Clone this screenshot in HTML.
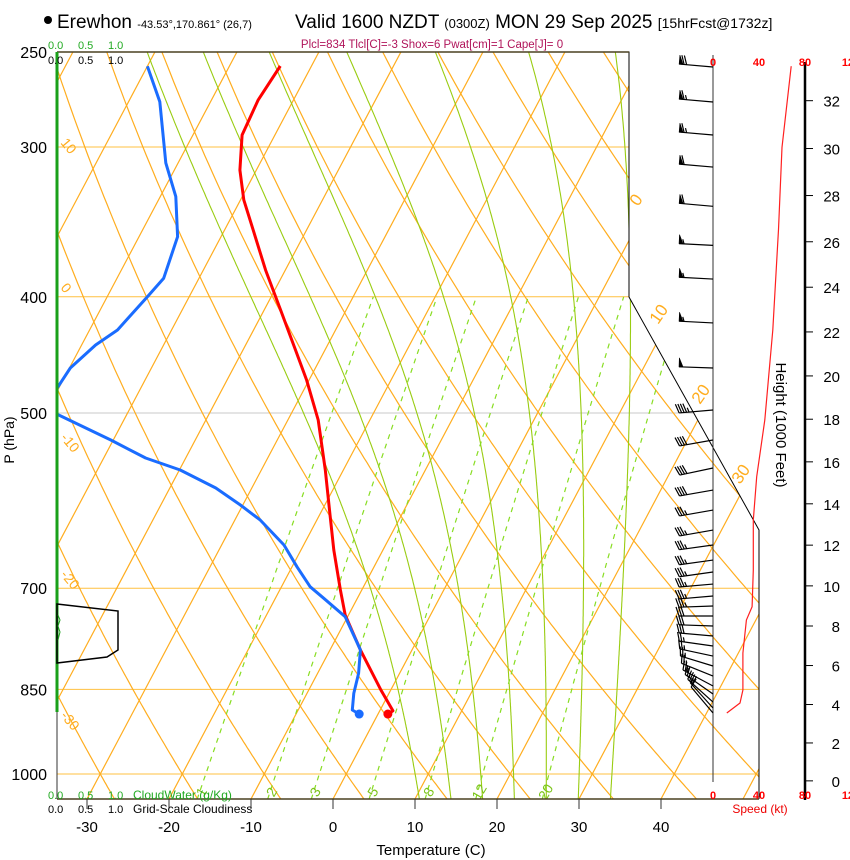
<!DOCTYPE html>
<html><head><meta charset="utf-8"><style>
html,body{margin:0;padding:0;background:#fff;}
svg{display:block;font-family:"Liberation Sans",sans-serif;}
</style></head><body>
<svg id="chart" width="850" height="860" viewBox="0 0 850 860" xmlns="http://www.w3.org/2000/svg">
<defs><clipPath id="plotclip"><polygon points="57,52 629,52 629,297 759,530 759,799 57,799"/></clipPath></defs>
<g id="bg" clip-path="url(#plotclip)"></g>
<g id="prof" clip-path="url(#plotclip)"></g>
<polyline points="57,52 629,52 629,297 759,530 759,799" fill="none" stroke="#000" stroke-width="1"/>
<line x1="57" y1="799" x2="759" y2="799" stroke="#4a4020" stroke-width="1.5"/>
<line x1="57" y1="52" x2="629" y2="52" stroke="#4a4020" stroke-width="1.5"/>
<line x1="57" y1="52" x2="57" y2="712" stroke="#1aa01a" stroke-width="3"/>
<line x1="57" y1="712" x2="57" y2="799" stroke="#333" stroke-width="1"/>
<polygon points="57,604 118,611 118,650 107,657 57,663" fill="none" stroke="#000" stroke-width="1.5"/>
<polyline points="58,615 60,620 58,626 60,632 58,640" fill="none" stroke="#1aa01a" stroke-width="1"/>
<g id="axes"></g>
<g id="wind"></g>
<g font-size="19">
<circle cx="48" cy="20" r="4" fill="#000"/>
<text x="57" y="28">Erewhon <tspan font-size="11">-43.53°,170.861° (26,7)</tspan></text>
<text x="295" y="28">Valid 1600 NZDT <tspan font-size="13">(0300Z)</tspan> MON 29 Sep 2025 <tspan font-size="14">[15hrFcst@1732z]</tspan></text>
</g>
<text x="432" y="48" font-size="11.5" fill="#b0145a" text-anchor="middle">Plcl=834 Tlcl[C]=-3 Shox=6 Pwat[cm]=1 Cape[J]= 0</text>
<g font-size="11">
<text x="48" y="49" fill="#22aa22">0.0</text><text x="78" y="49" fill="#22aa22">0.5</text><text x="108" y="49" fill="#22aa22">1.0</text>
<text x="48" y="64">0.0</text><text x="78" y="64">0.5</text><text x="108" y="64">1.0</text>
</g>
<g font-size="11">
<text x="48" y="799" fill="#22aa22">0.0</text><text x="78" y="799" fill="#22aa22">0.5</text><text x="108" y="799" fill="#22aa22">1.0</text><text x="133" y="799" fill="#22aa22" font-size="12">CloudWater (g/Kg)</text>
<text x="48" y="813">0.0</text><text x="78" y="813">0.5</text><text x="108" y="813">1.0</text><text x="133" y="813" font-size="12">Grid-Scale Cloudiness</text>
</g>
<text x="431" y="855" font-size="15" text-anchor="middle">Temperature (C)</text>
<text transform="translate(14,440) rotate(-90)" font-size="14" text-anchor="middle">P (hPa)</text>
<text transform="translate(776,425) rotate(90)" font-size="15" text-anchor="middle">Height (1000 Feet)</text>
<text x="760" y="813" font-size="12" fill="#e00" text-anchor="middle">Speed (kt)</text>
<script>
const presLevels=[250,300,400,500,700,850,1000];
const xTicks=[-30,-20,-10,0,10,20,30,40];
const isotherms=[-110,-100,-90,-80,-70,-60,-50,-40,-30,-20,-10,0,10,20,30,40,50];
const dryThetas=[-30,-20,-10,0,10,20,30,40,50,60,70,80,90,100,110,120,130,140,150,160,170,180];
const moistThw=[8.4,12.4,16.4,20.4,24.4,28.4,32.4];
const mixRatios=[1,2,3,5,8,12,20];
const tempP=[256.8,274.1,293.2,313.6,332.1,351.9,380.0,410.3,443.0,469.3,506.8,557.8,602.4,650.4,702.4,736.9,788,851,885.7,891.2];
const tempT=[-53.8,-54.3,-54.0,-52.0,-49.6,-46.5,-42.4,-38.0,-33.6,-30.3,-26.3,-22.2,-19.1,-16.0,-12.6,-10.4,-6.3,-1.2,1.6,1.2];
const dewP=[256.9,275.0,309.3,330.0,356.4,386.0,399.9,426.3,438.8,458.6,495.2,526.6,545.1,557.8,577.4,596.6,614.1,644.2,671.7,698.0,713.6,739.3,788,824.2,856.4,884.3,891.2];
const dewT=[-70.0,-66.2,-61.5,-58.1,-55.3,-54.3,-55.1,-56.6,-58.3,-59.9,-60.5,-50.3,-44.9,-39.9,-34.4,-30.3,-26.9,-22.4,-19.4,-16.5,-14.1,-10.3,-6.3,-5.0,-4.3,-3.4,-2.3];
const spdP=[256.9,300.2,351.5,426.3,506.8,565.0,614.1,675.9,725.3,744.0,792.7,851.0,872.6,889.5];
const spdV=[68,60,57,52,45,38,35,35,34,29,26,26,23.5,12];
const barbP=[257.3,275.2,293.2,311.8,336.2,362.4,386.6,420.6,458.6,497.1,526.6,555.7,579.7,602.4,626.0,644.2,663.1,678.5,694.4,710.5,724.3,738.3,752.6,767.2,782.1,797.3,812.7,828.5,844.5,857.6,870.9,881.0,889.5];
const barbDir=[275,275,275,275,275,273,273,273,272,265,260,258,260,260,260,262,262,262,265,265,268,270,272,275,278,282,287,292,298,305,312,318,320];
const barbSpd=[68,66,63,60,58,57,56,53,50,45,42,40,38,37,36,35,35,35,35,34,34,31,29,28,27,26,26,26,26,25,24,20,12];
const heightTicks=[0,2,4,6,8,10,12,14,16,18,20,22,24,26,28,30,32];
const speedTicks=[0,40,80,120];

const NS='http://www.w3.org/2000/svg';
function yP(p){return 774-520.8*Math.log(1000/p);}
function xT(T,y){return 333+8.2*T+0.53*(799-y);}
function xS(s){return 713+1.15*s;}
function mk(tag,attrs,parent){const e=document.createElementNS(NS,tag);for(const k in attrs)e.setAttribute(k,attrs[k]);parent.appendChild(e);return e;}
const bg=document.getElementById('bg'),prof=document.getElementById('prof'),axes=document.getElementById('axes'),wind=document.getElementById('wind');
const pList=[];for(let p=1060;p>=240;p-=5)pList.push(p);

presLevels.forEach(p=>{const y=yP(p);
 const l=mk('line',{x1:57,y1:y,x2:760,y2:y,stroke:(p===500?'#c8c8c8':'#ffc040'),'stroke-width':1},bg);
 
 
 const t=mk('text',{x:47,y:y+6,'font-size':16,'text-anchor':'end'},axes);t.textContent=p;
 
 
});
isotherms.forEach(T=>{const l=mk('line',{x1:xT(T,820),y1:820,x2:xT(T,40),y2:40,stroke:'#ffad1f','stroke-width':1.2},bg);
 
 });
dryThetas.forEach(th=>{const pts=pList.map(p=>{const T=(th+273.15)*Math.pow(p/1000,0.2857)-273.15;const y=yP(p);return xT(T,y).toFixed(1)+','+y.toFixed(1);});
 const l=mk('polyline',{points:pts.join(' '),fill:'none',stroke:'#ffad1f','stroke-width':1.2},bg);
 
 });
function dTdp(p,T){const es=6.112*Math.exp(17.67*(T-273.15)/(T-29.65));const rs=0.622*es/(p-es);
 return (287*T+2.5e6*rs)/(p*(1004+2.5e6*2.5e6*rs*0.622/(287*T*T)));}
moistThw.forEach(w=>{let T=w+273.15;let p;
 const up=[];for(p=1000;p>=240;p-=2){up.push([p,T]);T-=dTdp(p,T)*2;}
 T=w+273.15;const dn=[];for(p=1000;p<=1060;p+=2){dn.push([p,T]);T+=dTdp(p,T)*2;}
 const all=dn.reverse().concat(up);
 const pts=all.map(a=>{const y=yP(a[0]);return xT(a[1]-273.15,y).toFixed(1)+','+y.toFixed(1);});
 const l=mk('polyline',{points:pts.join(' '),fill:'none',stroke:'#99cc11','stroke-width':1.1},bg);
 
 });
mixRatios.forEach(w=>{const pts=[];for(let p=1050;p>=400;p-=10){const e=w*p/(622+w);const L=Math.log(e/6.112);const Td=243.5*L/(17.67-L);const y=yP(p);pts.push(xT(Td,y).toFixed(1)+','+y.toFixed(1));}
 const l=mk('polyline',{points:pts.join(' '),fill:'none',stroke:'#88dd22','stroke-width':1.2,'stroke-dasharray':'5,5'},bg);
 
 
 const p=1030,e=w*p/(622+w),L=Math.log(e/6.112),Td=243.5*L/(17.67-L),y=yP(p),x=xT(Td,y);
 const t=mk('text',{transform:'translate('+(x+5)+','+(y+5)+') rotate(-60)','font-size':14,fill:'#7cc41a','text-anchor':'middle'},bg);t.textContent=w;
 
 });
[[60,143,'10'],[60,288,'0'],[60,438,'-10'],[60,575,'-20'],[60,716,'-30']].forEach(a=>{const t=mk('text',{transform:'translate('+a[0]+','+a[1]+') rotate(50)','font-size':14,fill:'#ffad1f'},axes);t.textContent=a[2];
 
 });
[[638,207,'0'],[658,325,'10'],[700,405,'20'],[740,485,'30']].forEach(a=>{const t=mk('text',{transform:'translate('+a[0]+','+a[1]+') rotate(-55)','font-size':17,fill:'#ffad1f'},axes);t.textContent=a[2];
 
 });
xTicks.forEach(T=>{const x=333+8.2*T;
 const tk=mk('line',{x1:x,y1:799,x2:x,y2:809,stroke:'#333','stroke-width':1},axes);
 
 
 const t=mk('text',{x:x,y:832,'font-size':15,'text-anchor':'middle'},axes);t.textContent=T;
 
 });
function line(P,T,color,name){const pts=P.map((p,i)=>{const y=yP(p);return xT(T[i],y).toFixed(1)+','+y.toFixed(1);});
 const l=mk('polyline',{points:pts.join(' '),fill:'none',stroke:color,'stroke-width':3,'stroke-linejoin':'round'},prof);
 
 
 const n=P.length-1,y=yP(P[n]);
 const c=mk('circle',{cx:xT(T[n],y),cy:y,r:4.5,fill:color},prof);
 
 }
line(tempP,tempT,'#ff0000','temperature-line');
line(dewP,dewT,'#1a6cff','dewpoint-line');
const st=mk('line',{x1:713,y1:55,x2:713,y2:782,stroke:'#333','stroke-width':1},wind);


const ha=mk('line',{x1:805,y1:62,x2:805,y2:800,stroke:'#000','stroke-width':2.5},wind);


heightTicks.forEach(h=>{const m=h*1000*0.3048;const p=1013.25*Math.pow(1-2.25577e-5*m,5.25588);const y=yP(p);
 const tk=mk('line',{x1:805,y1:y,x2:813,y2:y,stroke:'#000','stroke-width':1},wind);
 
 
 const t=mk('text',{x:840,y:y+6,'font-size':15,'text-anchor':'end'},wind);t.textContent=h;
 
 });
speedTicks.forEach(s=>{[66,799].forEach(y=>{const t=mk('text',{x:xS(s),y:y,'font-size':11,'font-weight':'bold',fill:'#ff0000','text-anchor':'middle'},wind);t.textContent=s;
 
 });});
const sp=mk('polyline',{points:spdP.map((p,i)=>xS(spdV[i]).toFixed(1)+','+yP(p).toFixed(1)).join(' '),fill:'none',stroke:'#ff2020','stroke-width':1.2},wind);


barbP.forEach((p,i)=>{const y=yP(p),d=barbDir[i]*Math.PI/180;const vx=Math.sin(d),vy=-Math.cos(d);const L=34;
 const tx=713+vx*L,ty=y+vy*L;const px=-vy,py=vx;
 const g=mk('g',{stroke:'#000','stroke-width':1.2,fill:'#000'},wind);
 
 
 mk('line',{x1:713,y1:y,x2:tx,y2:ty},g);
 let s=Math.round(barbSpd[i]/5)*5;let pos=0;const F=9;
 while(s>=50){const ax=tx-vx*pos,ay=ty-vy*pos,bx=tx-vx*(pos+4),by=ty-vy*(pos+4);
  mk('polygon',{points:ax+','+ay+' '+(ax+px*F)+','+(ay+py*F)+' '+bx+','+by,'stroke-width':0.6},g);pos+=5;s-=50;}
 while(s>=10){const ax=tx-vx*pos,ay=ty-vy*pos;mk('line',{x1:ax,y1:ay,x2:ax+px*F+vx*3,y2:ay+py*F+vy*3},g);pos+=2.5;s-=10;}
 if(s>=5){const ax=tx-vx*pos,ay=ty-vy*pos;mk('line',{x1:ax,y1:ay,x2:ax+px*F*0.5+vx*1.5,y2:ay+py*F*0.5+vy*1.5},g);}
});
</script>
</svg>
</body></html>
